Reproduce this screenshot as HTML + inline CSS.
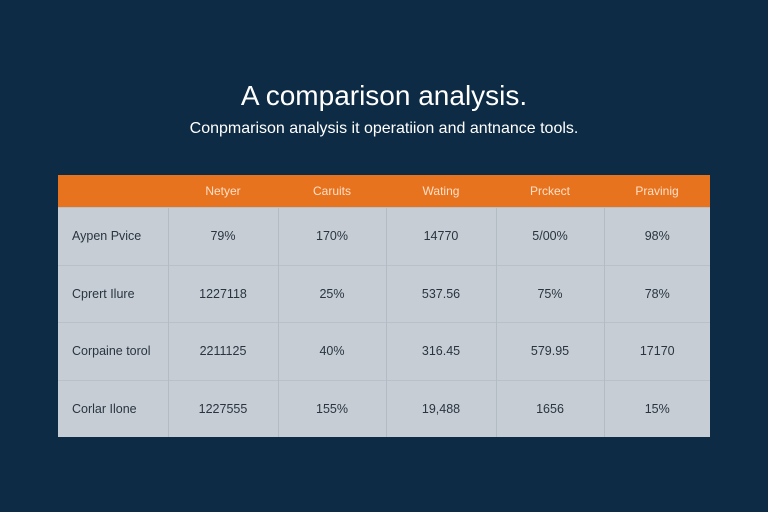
<!DOCTYPE html>
<html><head><style>
body{margin:0;width:768px;height:512px;background:#0e2b45;font-family:"Liberation Sans",sans-serif;position:relative;overflow:hidden}
h1{position:absolute;top:80px;left:0;width:768px;text-align:center;margin:0;font-weight:normal;font-size:28px;color:#fff}
h2{position:absolute;top:120px;left:0;width:768px;text-align:center;margin:0;font-weight:normal;font-size:16px;color:#fff}
table{position:absolute;left:58px;top:175px;width:652px;border-collapse:collapse;font-size:12.5px;color:#2a3440}
th{background:#e8731f;color:#fbe0c8;font-weight:normal;height:32px;padding:0;font-size:12px}
td{background:#c6cdd4;text-align:center;border-left:1px solid #b3bcc5;border-top:1px solid #b8c1ca;padding:0}
td:first-child{text-align:left;padding-left:14px;border-left:none}
tr.a td{height:56.5px}
</style></head><body>
<h1>A comparison analysis.</h1>
<h2>Conpmarison analysis it operatiion and antnance tools.</h2>
<table>
<colgroup><col style="width:110px"><col style="width:110px"><col style="width:108px"><col style="width:110px"><col style="width:108px"><col style="width:106px"></colgroup>
<tr><th></th><th>Netyer</th><th>Caruits</th><th>Wating</th><th>Prckect</th><th>Pravinig</th></tr>
<tr class="a"><td>Aypen Pvice</td><td>79%</td><td>170%</td><td>14770</td><td>5/00%</td><td>98%</td></tr>
<tr class="a"><td>Cprert Ilure</td><td>1227118</td><td>25%</td><td>537.56</td><td>75%</td><td>78%</td></tr>
<tr class="a"><td>Corpaine torol</td><td>2211125</td><td>40%</td><td>316.45</td><td>579.95</td><td>17170</td></tr>
<tr class="a"><td>Corlar Ilone</td><td>1227555</td><td>155%</td><td>19,488</td><td>1656</td><td>15%</td></tr>
</table>
</body></html>
